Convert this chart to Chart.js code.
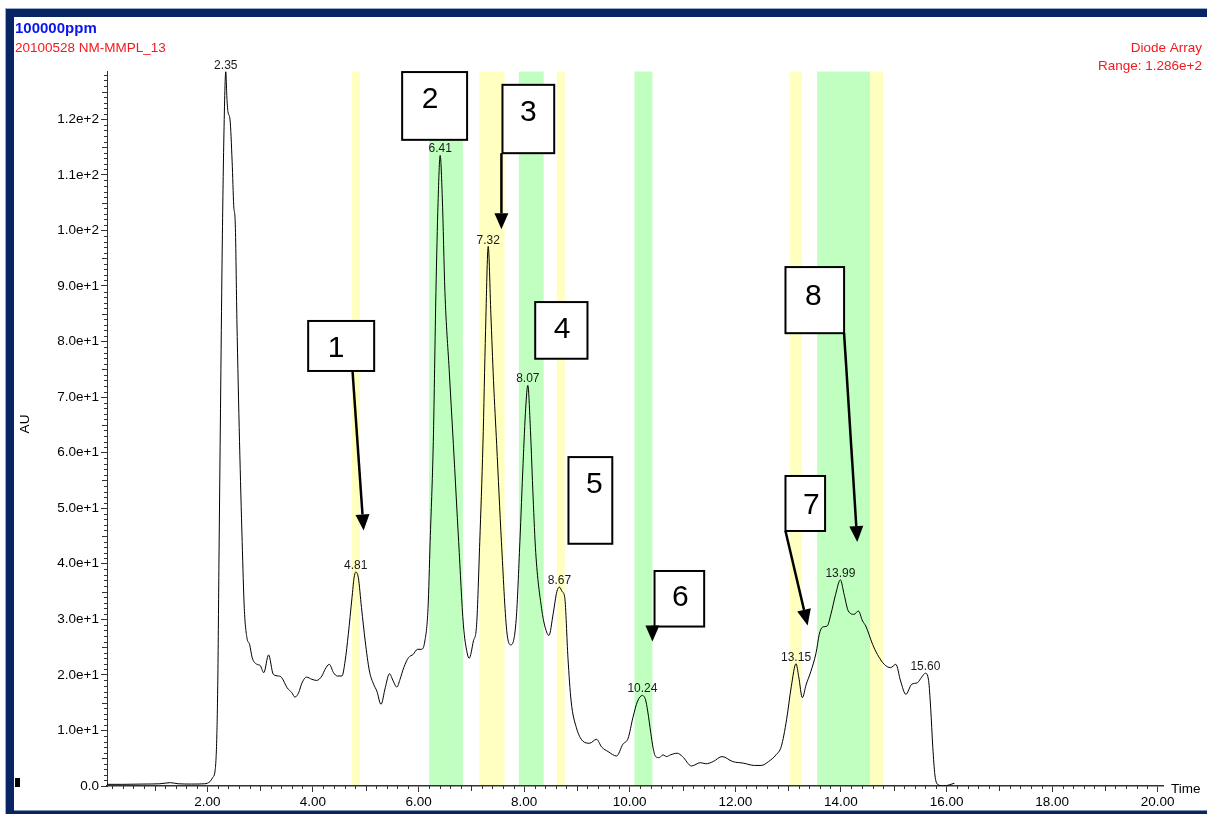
<!DOCTYPE html>
<html>
<head>
<meta charset="utf-8">
<script src="https://cdn.jsdelivr.net/npm/chart.js@4.4.1/dist/chart.umd.min.js"></script>
<style>
  html, body { margin: 0; padding: 0; background: #fff; }
  canvas { display: block; }
</style>
</head>
<body>
<canvas id="chrom" width="1207" height="814"></canvas>
<script>
// Retention time (min) and absorbance (AU) of the diode-array trace
const times = [
  0.10, 0.40, 0.80, 1.10, 1.30, 1.45, 1.70, 1.95, 2.05, 2.10,
  2.15, 2.18, 2.20, 2.22, 2.25, 2.28, 2.31, 2.35, 2.37, 2.39,
  2.43, 2.47, 2.50, 2.53, 2.56, 2.61, 2.66, 2.70, 2.75, 2.80,
  2.85, 2.94, 3.00, 3.07, 3.16, 3.25, 3.35, 3.41, 3.51, 3.60,
  3.66, 3.73, 3.79, 3.88, 3.98, 4.07, 4.17, 4.23, 4.31, 4.39,
  4.46, 4.55, 4.61, 4.67, 4.74, 4.78, 4.81, 4.86, 4.92, 4.99,
  5.07, 5.15, 5.21, 5.29, 5.37, 5.45, 5.52, 5.59, 5.65, 5.72,
  5.81, 5.90, 5.98, 6.06, 6.12, 6.18, 6.22, 6.28, 6.33, 6.37,
  6.41, 6.45, 6.50, 6.58, 6.66, 6.76, 6.85, 6.92, 6.96, 7.04,
  7.10, 7.16, 7.22, 7.27, 7.32, 7.37, 7.42, 7.48, 7.57, 7.67,
  7.75, 7.85, 7.92, 7.98, 8.03, 8.07, 8.12, 8.17, 8.22, 8.33,
  8.40, 8.47, 8.55, 8.62, 8.67, 8.72, 8.77, 8.83, 8.89, 8.99,
  9.11, 9.24, 9.37, 9.47, 9.59, 9.75, 9.87, 9.97, 10.06, 10.15,
  10.24, 10.30, 10.34, 10.40, 10.44, 10.49, 10.56, 10.63, 10.70, 10.77,
  10.90, 11.00, 11.17, 11.34, 11.44, 11.58, 11.75, 11.95, 12.16, 12.36,
  12.49, 12.63, 12.77, 12.87, 12.97, 13.06, 13.15, 13.20, 13.27, 13.34,
  13.43, 13.53, 13.59, 13.65, 13.74, 13.81, 13.90, 13.99, 14.06, 14.14,
  14.25, 14.33, 14.41, 14.47, 14.60, 14.69, 14.82, 14.94, 15.04, 15.13,
  15.23, 15.34, 15.45, 15.53, 15.60, 15.66, 15.70, 15.74, 15.78, 15.83,
  15.95, 16.05, 16.15
];
const au = [
  0.3, 0.3, 0.35, 0.4, 0.6, 0.4, 0.35, 0.4, 0.8, 1.5,
  3.0, 9.0, 20.0, 40.0, 68.0, 95.0, 115.0, 128.6, 124.0, 121.4,
  119.9, 112.4, 104.5, 101.0, 84.0, 62.0, 44.0, 32.0, 26.7, 25.5,
  23.1, 21.9, 21.7, 20.4, 23.6, 20.1, 19.8, 19.5, 17.7, 16.8,
  16.0, 16.8, 18.5, 19.6, 19.2, 19.0, 19.8, 21.0, 21.9, 20.4,
  19.8, 19.8, 22.5, 27.3, 33.9, 37.5, 38.5, 37.5, 32.1, 26.1,
  20.7, 18.3, 17.1, 14.7, 17.7, 20.2, 18.9, 17.8, 19.2, 21.3,
  23.1, 23.7, 24.6, 24.6, 26.1, 32.0, 44.0, 62.0, 89.0, 105.0,
  113.5, 106.0, 89.0, 75.0, 61.5, 44.0, 29.0, 24.0, 23.0, 26.1,
  29.0, 44.0, 61.5, 82.0, 97.1, 85.0, 73.0, 61.5, 44.0, 28.0,
  25.4, 30.0, 44.0, 58.0, 68.0, 72.1, 64.0, 52.0, 42.0, 32.0,
  28.5, 27.1, 31.0, 35.0, 35.8, 35.0, 33.9, 23.1, 15.3, 10.5,
  8.1, 7.7, 8.4, 7.0, 6.2, 5.4, 7.5, 8.6, 12.3, 15.3,
  16.3, 15.5, 13.5, 9.5, 7.0, 5.3, 5.1, 5.6, 5.3, 5.6,
  5.9, 5.3, 3.6, 4.2, 4.0, 4.4, 5.3, 4.4, 4.1, 3.7,
  3.7, 4.4, 5.6, 7.1, 11.9, 17.9, 22.0, 19.7, 15.9, 18.2,
  20.6, 24.0, 27.3, 28.6, 28.8, 30.9, 34.5, 37.1, 34.5, 31.5,
  30.9, 31.5, 29.7, 28.8, 25.5, 23.7, 21.9, 21.3, 21.9, 18.9,
  16.5, 18.3, 18.6, 19.6, 20.3, 19.0, 14.0, 7.0, 2.0, 0.3,
  0.0, 0.2, 0.5
];
// Labelled peak apexes (retention times present in the trace)
const peakTimes = [2.35, 4.81, 6.41, 7.32, 8.07, 8.67, 10.24, 13.15, 13.99, 15.60];
// Collected fraction windows (min)
const yellowBands = [[4.74, 4.89], [7.15, 7.63], [8.62, 8.77], [13.03, 13.26], [14.55, 14.80]];
const greenBands  = [[6.20, 6.84], [7.90, 8.37], [10.09, 10.43], [13.55, 14.55]];
// Axis tick values
const xTicks = [2, 4, 6, 8, 10, 12, 14, 16, 18, 20];
const yTicks = [0, 10, 20, 30, 40, 50, 60, 70, 80, 90, 100, 110, 120];

// Numbered fraction call-outs, placed in data units: box [t0, t1, auTop, auBottom]
const callouts = [
  { n: '1', box: [3.91, 5.16, 83.7, 74.7],  text: [4.44, 78.7],  arrow: [4.75, 74.7, 4.96, 46.0] },
  { n: '2', box: [5.69, 6.92, 128.5, 116.3], text: [6.22, 123.5] },
  { n: '3', box: [7.59, 8.57, 126.2, 113.9], text: [8.08, 121.1], arrow: [7.57, 113.9, 7.57, 100.2] },
  { n: '4', box: [8.21, 9.20, 87.1, 76.9],  text: [8.72, 82.1] },
  { n: '5', box: [8.84, 9.67, 59.2, 43.6],  text: [9.33, 54.3] },
  { n: '6', box: [10.47, 11.41, 38.7, 28.7], text: [10.96, 33.8], arrow: [10.43, 28.7, 10.43, 26.0] },
  { n: '7', box: [12.95, 13.70, 55.8, 45.9], text: [13.44, 50.5], arrow: [12.95, 45.9, 13.37, 28.9] },
  { n: '8', box: [12.95, 14.06, 93.4, 81.5], text: [13.48, 88.0], arrow: [14.06, 81.5, 14.31, 43.9] }
];

const FONT = '"Liberation Sans", Arial, Helvetica, sans-serif';
const NAVY = '#072463';

const points = times.map((t, i) => ({ x: t, y: au[i] }));

const bandPlugin = {
  id: 'fractionBands',
  beforeDatasetsDraw(chart) {
    const { ctx, chartArea: a, scales: { x } } = chart;
    ctx.save();
    const paint = (list, color) => {
      ctx.fillStyle = color;
      list.forEach(([s, e]) => {
        const x0 = x.getPixelForValue(s), x1 = x.getPixelForValue(e);
        ctx.fillRect(x0, a.top, x1 - x0, a.bottom - a.top - 1);
      });
    };
    paint(yellowBands, '#ffffc0');
    paint(greenBands, '#c0ffc0');
    ctx.restore();
  }
};

const peakLabelPlugin = {
  id: 'peakLabels',
  afterDatasetsDraw(chart) {
    const { ctx, scales: { x, y } } = chart;
    ctx.save();
    ctx.font = '12px ' + FONT;
    ctx.fillStyle = '#1a1a1a';
    ctx.textAlign = 'center';
    ctx.textBaseline = 'alphabetic';
    peakTimes.forEach(t => {
      const i = times.indexOf(t);
      const px = x.getPixelForValue(t), py = y.getPixelForValue(au[i]);
      ctx.fillText(t.toFixed(2), px, py - 3);
    });
    ctx.restore();
  }
};

const decorPlugin = {
  id: 'decor',
  beforeDraw(chart) {
    const { ctx, width, height } = chart;
    ctx.save();
    ctx.fillStyle = '#fff';
    ctx.fillRect(0, 0, width, height);
    ctx.restore();
  },
  afterDraw(chart) {
    const { ctx, chartArea: a, scales: { x, y } } = chart;
    ctx.save();

    // minor and intermediate ticks
    ctx.strokeStyle = '#333';
    ctx.lineWidth = 1;
    ctx.beginPath();
    for (let k = 1; k <= 100; k++) {
      if (k % 10 === 0) continue;
      const t = k * 0.2;
      const px = Math.round(x.getPixelForValue(t)) + 0.5;
      const len = (k % 5 === 0) ? 5 : 3;
      ctx.moveTo(px, a.bottom);
      ctx.lineTo(px, a.bottom + len);
    }
    for (let k = 1; k <= 128; k++) {
      if (k % 10 === 0) continue;
      const py = Math.round(y.getPixelForValue(k)) + 0.5;
      const len = (k % 5 === 0) ? 5 : 3;
      ctx.moveTo(a.left, py);
      ctx.lineTo(a.left - len, py);
    }
    ctx.stroke();

    // axis titles
    ctx.fillStyle = '#000';
    ctx.font = '13.5px ' + FONT;
    ctx.textAlign = 'left';
    ctx.textBaseline = 'middle';
    ctx.fillText('Time', 1171, 789);
    ctx.save();
    ctx.translate(25, 424);
    ctx.rotate(-Math.PI / 2);
    ctx.textAlign = 'center';
    ctx.fillText('AU', 0, 0);
    ctx.restore();

    // call-out boxes and arrows
    callouts.forEach(c => {
      const [t0, t1, vt, vb] = c.box;
      const bx0 = x.getPixelForValue(t0), bx1 = x.getPixelForValue(t1);
      const by0 = y.getPixelForValue(vt), by1 = y.getPixelForValue(vb);
      ctx.fillStyle = '#fff';
      ctx.fillRect(bx0, by0, bx1 - bx0, by1 - by0);
      ctx.strokeStyle = '#000';
      ctx.lineWidth = 2;
      ctx.strokeRect(bx0, by0, bx1 - bx0, by1 - by0);
      ctx.fillStyle = '#000';
      ctx.font = '30px ' + FONT;
      ctx.textAlign = 'center';
      ctx.textBaseline = 'middle';
      ctx.fillText(c.n, x.getPixelForValue(c.text[0]), y.getPixelForValue(c.text[1]));
      if (c.arrow) {
        const ax0 = x.getPixelForValue(c.arrow[0]), ay0 = y.getPixelForValue(c.arrow[1]);
        const ax1 = x.getPixelForValue(c.arrow[2]), ay1 = y.getPixelForValue(c.arrow[3]);
        const ang = Math.atan2(ay1 - ay0, ax1 - ax0);
        const hl = 16, hw = 7;
        const bxp = ax1 - hl * Math.cos(ang), byp = ay1 - hl * Math.sin(ang);
        ctx.lineWidth = 2.5;
        ctx.beginPath();
        ctx.moveTo(ax0, ay0);
        ctx.lineTo(bxp, byp);
        ctx.stroke();
        ctx.beginPath();
        ctx.moveTo(ax1, ay1);
        ctx.lineTo(bxp + hw * Math.sin(ang), byp - hw * Math.cos(ang));
        ctx.lineTo(bxp - hw * Math.sin(ang), byp + hw * Math.cos(ang));
        ctx.closePath();
        ctx.fill();
      }
    });

    // header texts
    ctx.textBaseline = 'alphabetic';
    ctx.textAlign = 'left';
    ctx.fillStyle = '#0a14f0';
    ctx.font = 'bold 15px ' + FONT;
    ctx.fillText('100000ppm', 15, 33);
    ctx.fillStyle = '#f5181e';
    ctx.font = '13.5px ' + FONT;
    ctx.fillText('20100528 NM-MMPL_13', 15, 51.5);
    ctx.textAlign = 'right';
    ctx.fillText('Diode Array', 1202, 52);
    ctx.fillText('Range: 1.286e+2', 1202, 69.5);

    // window frame
    ctx.fillStyle = '#9aabd0';
    ctx.fillRect(5, 8, 1202, 1);
    ctx.fillRect(5, 8, 1, 806);
    ctx.fillStyle = NAVY;
    ctx.fillRect(6, 9, 1201, 8);
    ctx.fillRect(6, 9, 8, 805);
    ctx.fillRect(6, 810.5, 1201, 3.5);

    // small marker at the origin level
    ctx.fillStyle = '#000';
    ctx.fillRect(15, 778, 5, 9);

    ctx.restore();
  }
};

new Chart(document.getElementById('chrom').getContext('2d'), {
  type: 'line',
  data: {
    datasets: [{
      data: points,
      borderColor: '#000',
      borderWidth: 1,
      pointRadius: 0,
      fill: false,
      cubicInterpolationMode: 'monotone'
    }]
  },
  options: {
    responsive: false,
    animation: false,
    events: [],
    layout: { padding: { left: 14, right: 44, top: 71.5, bottom: 0 } },
    plugins: { legend: { display: false }, tooltip: { enabled: false }, title: { display: false } },
    scales: {
      x: {
        type: 'linear',
        min: 0.1,
        max: 20.1,
        afterBuildTicks: s => { s.ticks = xTicks.map(v => ({ value: v })); },
        afterFit: s => { s.height = 28; },
        grid: { drawOnChartArea: false, drawTicks: true, tickLength: 6, color: '#333', lineWidth: 1 },
        border: { display: true, color: '#333', width: 1.5 },
        ticks: {
          autoSkip: false, maxRotation: 0, padding: 2, color: '#000',
          font: { family: FONT, size: 13.5 },
          callback: v => Number(v).toFixed(2)
        }
      },
      y: {
        type: 'linear',
        min: 0,
        max: 128.6,
        afterBuildTicks: s => { s.ticks = yTicks.map(v => ({ value: v })); },
        afterFit: s => { s.width = 93; },
        grid: { drawOnChartArea: false, drawTicks: true, tickLength: 6, color: '#333', lineWidth: 1 },
        border: { display: true, color: '#333', width: 1 },
        ticks: {
          autoSkip: false, padding: 2, color: '#000',
          font: { family: FONT, size: 13.5 },
          callback: v => (v === 0 ? '0.0' : Number(v).toExponential(1))
        }
      }
    }
  },
  plugins: [bandPlugin, peakLabelPlugin, decorPlugin]
});
</script>
</body>
</html>
